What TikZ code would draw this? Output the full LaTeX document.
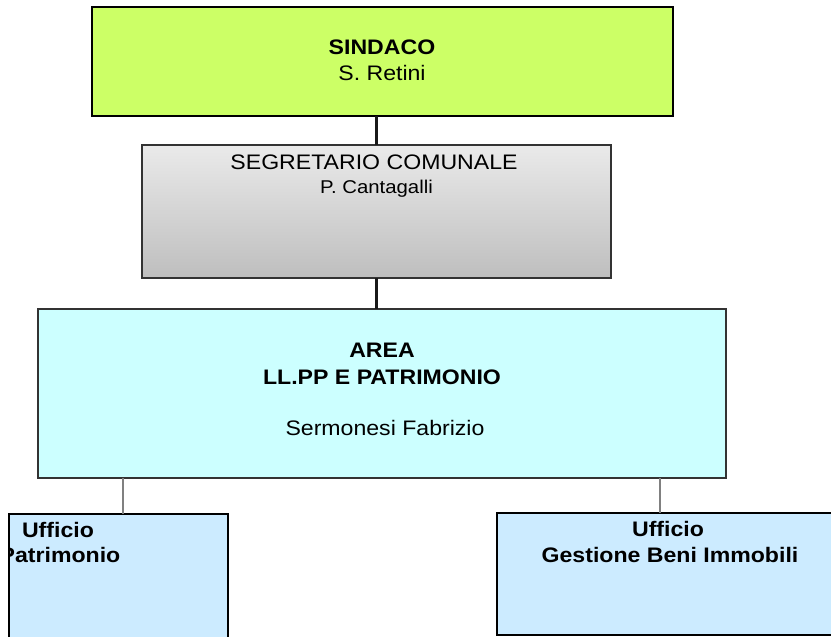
\documentclass[tikz,border=0pt]{standalone}
\usepackage{fontspec}
\setmainfont{Liberation Sans}[FakeStretch=1.1]
\begin{document}
\begin{tikzpicture}[x=1pt,y=-1pt,
  box/.style={draw, line width=2pt, inner sep=0pt, outer sep=0pt},
  big/.style={font=\fontsize{21}{25}\selectfont, anchor=base, inner sep=0pt},
  bigb/.style={font=\fontsize{21}{25}\selectfont\bfseries, anchor=base, inner sep=0pt},
  small/.style={font=\fontsize{18.5}{22}\selectfont, anchor=base, inner sep=0pt},
  thickline/.style={line width=2.5pt, black!90},
  thinline/.style={line width=1.3pt, black!50}]
\useasboundingbox (0,0) rectangle (831,637);
\clip (0,0) rectangle (831,637);
\fill[white] (0,0) rectangle (831,637);
% boxes
\node[box, draw=black, fill={rgb,255:red,204;green,255;blue,102},
  minimum width=581pt, minimum height=109pt] (sindaco) at (382.5,61.5) {};
\node[box, draw=black!80, top color={rgb,255:red,234;green,234;blue,234},
  bottom color={rgb,255:red,190;green,190;blue,190},
  minimum width=469pt, minimum height=133pt] (segr) at (376.5,211.5) {};
\node[box, draw=black!80, fill={rgb,255:red,204;green,255;blue,255},
  minimum width=688pt, minimum height=169pt] (area) at (382,393.5) {};
\node[box, draw=black, fill={rgb,255:red,204;green,235;blue,255},
  minimum width=336pt, minimum height=160pt] (uffpat) at (60,594) {};
\node[box, draw=black, fill={rgb,255:red,204;green,235;blue,255},
  minimum width=346pt, minimum height=122pt] (uffgbi) at (670,574) {};
% connectors
\coordinate (j1) at (123,0);
\coordinate (j2) at (660,0);
\draw[thickline] (segr.north) -- (segr.north |- sindaco.south);
\draw[thickline] (segr.south) -- (segr.south |- area.north);
\draw[thinline] (area.south -| j1) -- (uffpat.north -| j1);
\draw[thinline] (area.south -| j2) -- (uffgbi.north -| j2);
% texts
\node[bigb] (t1) at (382,54) {SINDACO};
\node[big] (t2) at (382,80) {S. Retini};
\node[big] (t3) at (374,169) {SEGRETARIO COMUNALE};
\node[small] (t4) at (376.5,193) {P. Cantagalli};
\node[bigb] (t5) at (382,357) {AREA};
\node[bigb] (t6) at (382,384) {LL.PP E PATRIMONIO};
\node[big] (t7) at (385,435) {Sermonesi Fabrizio};
\node[bigb] (t8) at (58,537) {Ufficio};
\node[bigb] (t9) at (60,562) {Patrimonio};
\node[bigb] (t10) at (668,536) {Ufficio};
\node[bigb] (t11) at (670,562) {Gestione Beni Immobili};
% white margin left of the Patrimonio box
\fill[white] (0,500) rectangle (8,637);
\draw[line width=2pt] (9,514) -- (9,637);
\end{tikzpicture}
\end{document}
